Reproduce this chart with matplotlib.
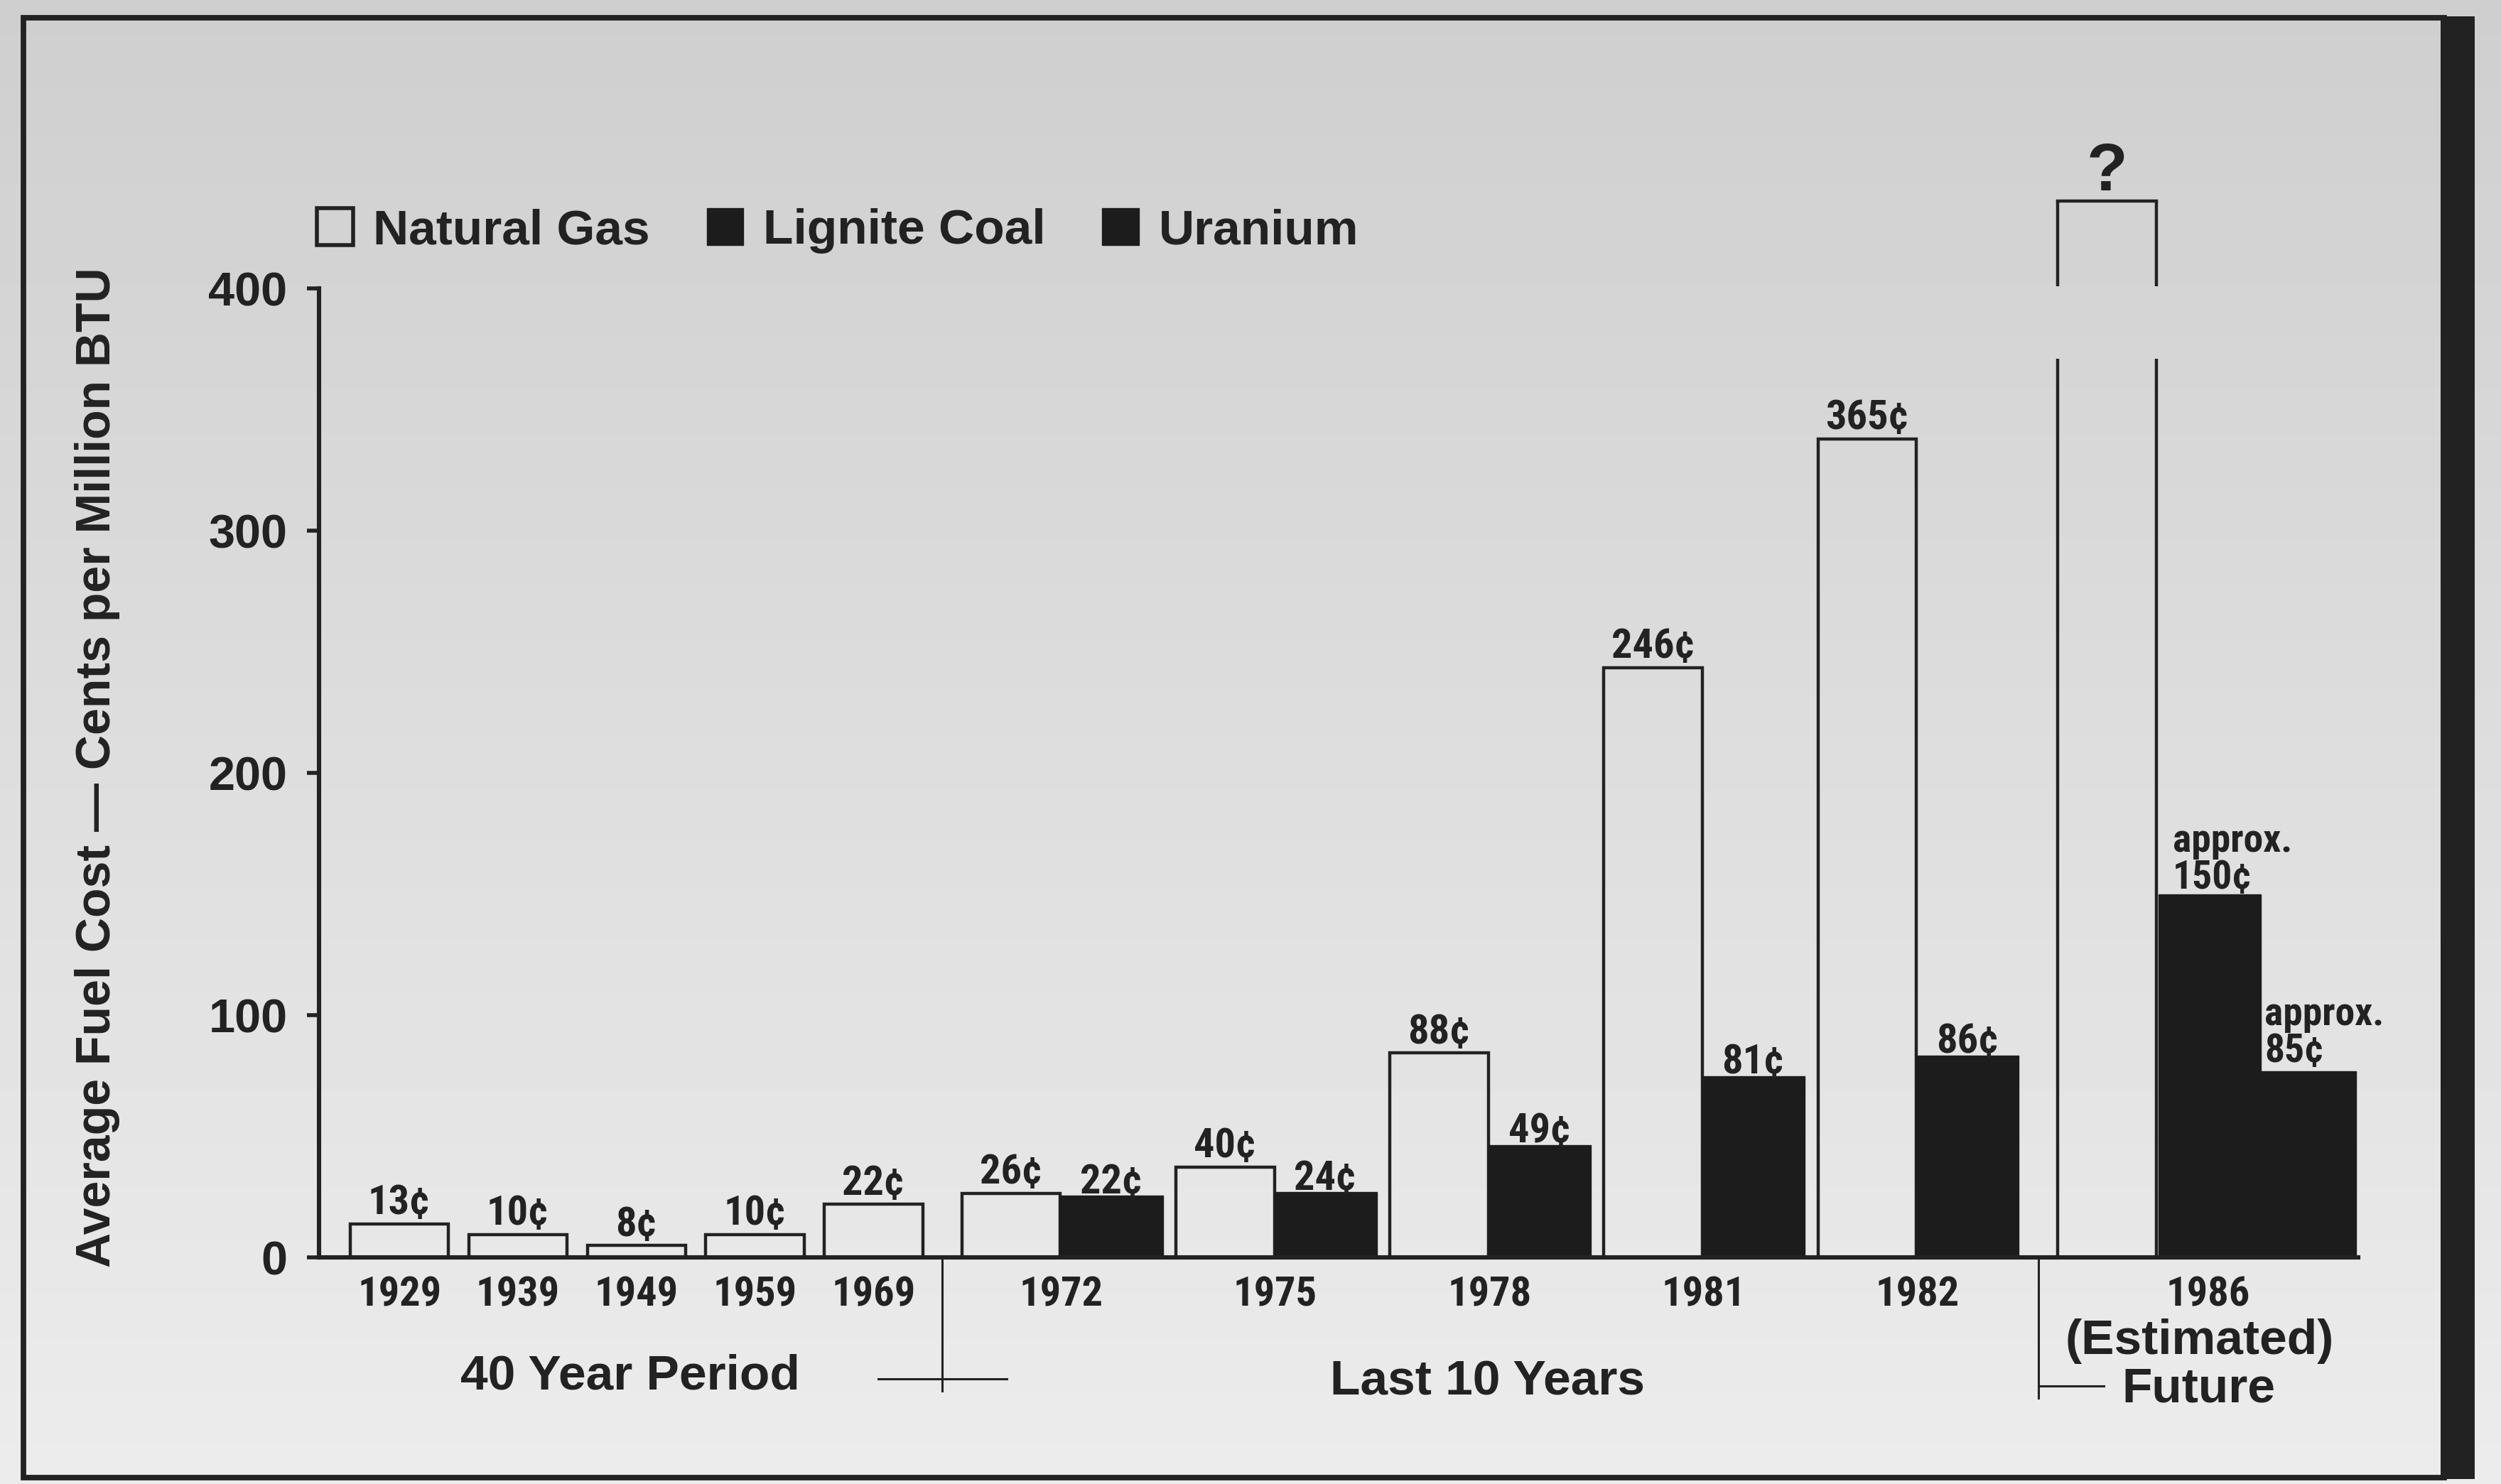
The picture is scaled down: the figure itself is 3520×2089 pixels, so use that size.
import matplotlib
matplotlib.use('Agg')
import matplotlib.pyplot as plt
from matplotlib.patches import Rectangle
from matplotlib import font_manager as fm
import numpy as np

# Data (bar heights; the art is not exactly to scale,
# so the printed labels are kept separately)
years = ['1929', '1939', '1949', '1959', '1969', '1972', '1975', '1978', '1981', '1982', '1986']
gas_cents = [14, 9.5, 5, 9.5, 22, 26.5, 37.5, 84.5, 243.5, 338, 436]
gas_labels = ['13¢', '10¢', '8¢', '10¢', '22¢', '26¢', '40¢', '88¢', '246¢', '365¢', '?']
lignite_years = ['1972', '1975', '1978', '1981', '1982', '1986']
lignite_cents = [25.5, 27, 46.5, 75, 83.5, 150]
lignite_labels = ['22¢', '24¢', '49¢', '81¢', '86¢', 'approx.\n150¢']
uranium_years = ['1986']
uranium_cents = [77]
uranium_labels = ['approx.\n85¢']
gas_break = (371, 401)   # gap drawn in the 1986 natural gas bar

SANS = 'Liberation Sans'
# look for a condensed bold face for the small labels
narrow_file = None
for f in fm.fontManager.ttflist:
    fn = f.fname.lower()
    if ('narrow' in fn or 'condensed' in fn) and 'bold' in fn and 'italic' not in fn \
            and 'oblique' not in fn and 'extra' not in fn and 'semi' not in fn:
        narrow_file = f.fname
        if 'liberation' in fn:
            break
if narrow_file:
    NARROW = fm.FontProperties(fname=narrow_file, size=21)
    NARROW_SMALL = fm.FontProperties(fname=narrow_file, size=20)
else:
    NARROW = fm.FontProperties(family=SANS, weight='bold', size=20)
    NARROW_SMALL = fm.FontProperties(family=SANS, weight='bold', size=19)

INK = '#222222'
BLACK = '#1c1c1c'

W, H = 3520, 2089
fig = plt.figure(figsize=(W / 200, H / 200), dpi=200)

# paper background: grey at top, lighter at bottom
bg = fig.add_axes([0, 0, 1, 1], zorder=0)
grad = np.linspace(0.81, 0.925, 256)[:, None]
bg.imshow(grad, aspect='auto', cmap='gray', vmin=0, vmax=1, extent=[0, 1, 0, 1])
bg.set_xlim(0, 1)
bg.set_ylim(0, 1)
bg.axis('off')

# frame around the graphic
fig.add_artist(Rectangle((33 / W, 1 - 2080 / H), (3440 - 33) / W, (2080 - 25) / H,
                         fill=False, lw=2.8, edgecolor=INK, zorder=1))
fig.add_artist(Rectangle((3435 / W, 1 - 2082 / H), 48 / W, (2082 - 23) / H,
                         facecolor=INK, edgecolor='none', zorder=1))

ax = fig.add_axes([449 / W, 0.1525, 0.8154, 0.7265], zorder=2)
ax.patch.set_alpha(0)
ax.set_xlim(0, 20.3)
ax.set_ylim(0, 445)

# bar positions (one unit = one bar width)
x_pos = {}
for i, y in enumerate(years[:5]):
    x_pos[y] = 0.8 + 1.18 * i
for j, y in enumerate(years[5:10]):
    x_pos[y] = 6.89 + 2.13 * j
x_pos['1986'] = 17.8

gas_x = [x_pos[y] for y in years]
lig_x = [x_pos[y] + (1.02 if y == '1986' else 1.0) for y in lignite_years]
ura_x = [x_pos[y] + 2.0 for y in uranium_years]

gas_bars = ax.bar(gas_x[:-1], gas_cents[:-1], width=0.98, facecolor='none',
                  edgecolor=INK, linewidth=1.6, label='Natural Gas')
lig_bars = ax.bar(lig_x, lignite_cents, width=1.02, color=BLACK, edgecolor=BLACK,
                  linewidth=0.5, label='Lignite Coal')
ura_bars = ax.bar(ura_x, uranium_cents, width=0.95, color=BLACK, edgecolor=BLACK,
                  linewidth=0.5, label='Uranium')

# 1986 natural gas: open bar with a break in its sides
fut = ax.bar(gas_x[-1], gas_cents[-1], width=0.98, facecolor='none', edgecolor='none')[0]
x0, x1, top = fut.get_x(), fut.get_x() + fut.get_width(), fut.get_height()
for xs in (x0, x1):
    ax.plot([xs, xs], [0, gas_break[0]], color=INK, lw=1.6, solid_capstyle='butt')
    ax.plot([xs, xs], [gas_break[1], top], color=INK, lw=1.6, solid_capstyle='butt')
ax.plot([x0, x1], [top, top], color=INK, lw=1.6)

# value labels
for xv, h, t in zip(gas_x[:-1], gas_cents[:-1], gas_labels[:-1]):
    ax.text(xv, h + 4, t, ha='center', va='baseline', fontproperties=NARROW, color=INK)
ax.text(gas_x[-1], gas_cents[-1] + 4.5, gas_labels[-1], ha='center', va='baseline',
        fontsize=34, fontweight='bold', family=SANS, color=INK)
for xv, h, t, b in zip(lig_x, lignite_cents, lignite_labels, lig_bars):
    if '\n' in t:
        ax.text(b.get_x() + 0.14, h - 1, t, ha='left', va='bottom',
                fontproperties=NARROW_SMALL, color=INK, linespacing=1.0)
    else:
        ax.text(xv, h + 1, t, ha='center', va='baseline', fontproperties=NARROW, color=INK)
for xv, h, t, b in zip(ura_x, uranium_cents, uranium_labels, ura_bars):
    ax.text(b.get_x() + 0.04, h + 0.5, t, ha='left', va='bottom',
            fontproperties=NARROW_SMALL, color=INK, linespacing=1.0)

# axes styling
for s in ('top', 'right'):
    ax.spines[s].set_visible(False)
ax.spines['left'].set_bounds(0, 400)
for s in ('left', 'bottom'):
    ax.spines[s].set_linewidth(2.2)
    ax.spines[s].set_color(INK)
ax.set_yticks([0, 100, 200, 300, 400])
ax.tick_params(axis='y', length=6, width=2, pad=10, colors=INK, labelsize=24)
for lbl in ax.get_yticklabels():
    lbl.set_fontweight('bold')
    lbl.set_family(SANS)

group_x = []
for y in years:
    xs = [gas_x[years.index(y)]]
    xs += [lig_x[i] for i, ly in enumerate(lignite_years) if ly == y]
    xs += [ura_x[i] for i, uy in enumerate(uranium_years) if uy == y]
    group_x.append(np.mean(xs))
ax.set_xticks(group_x, years)
ax.tick_params(axis='x', length=0, pad=9, colors=INK)
for lbl in ax.get_xticklabels():
    lbl.set_fontproperties(NARROW)

# period dividers under the axis
d1 = (gas_x[4] + 0.49 + gas_x[5] - 0.49) / 2
d2 = (lig_x[4] + 0.51 + gas_x[10] - 0.49) / 2
ax.plot([d1, d1], [0, -55], color=INK, lw=1.1, clip_on=False)
ax.plot([d1 - 0.64, d1 + 0.64], [-50, -50], color=INK, lw=1.1, clip_on=False)
ax.plot([d2, d2], [0, -58], color=INK, lw=1.1, clip_on=False)
ax.plot([d2, d2 + 0.65], [-53, -53], color=INK, lw=1.1, clip_on=False)

fig.text(887 / W, 1 - 1938 / H, '40 Year Period', ha='center', va='center',
         fontsize=25, fontweight='bold', family=SANS, color=INK)
fig.text(2094 / W, 1 - 1945 / H, 'Last 10 Years', ha='center', va='center',
         fontsize=25, fontweight='bold', family=SANS, color=INK)
fig.text(3096 / W, 1 - 1888 / H, '(Estimated)', ha='center', va='center',
         fontsize=25, fontweight='bold', family=SANS, color=INK)
fig.text(3094 / W, 1 - 1955 / H, 'Future', ha='center', va='center',
         fontsize=25, fontweight='bold', family=SANS, color=INK)

fig.text(137 / W, 1 - 1080 / H, 'Average Fuel Cost — Cents per Million BTU',
         rotation=90, ha='center', va='center', fontsize=24.5, fontweight='bold',
         family=SANS, color=INK)

leg = ax.legend(handles=[gas_bars, lig_bars, ura_bars], loc='center left',
                bbox_to_anchor=(446 / W, 1 - 325 / H), bbox_transform=fig.transFigure,
                ncol=3, frameon=False, borderpad=0, borderaxespad=0,
                handlelength=0.74, handleheight=0.77, handletextpad=0.4,
                columnspacing=1.15,
                prop={'family': SANS, 'weight': 'bold', 'size': 25})
for t in leg.get_texts():
    t.set_color(INK)
leg.legend_handles[0].set_linewidth(2.0)

fig.savefig('out.png', dpi=200)
